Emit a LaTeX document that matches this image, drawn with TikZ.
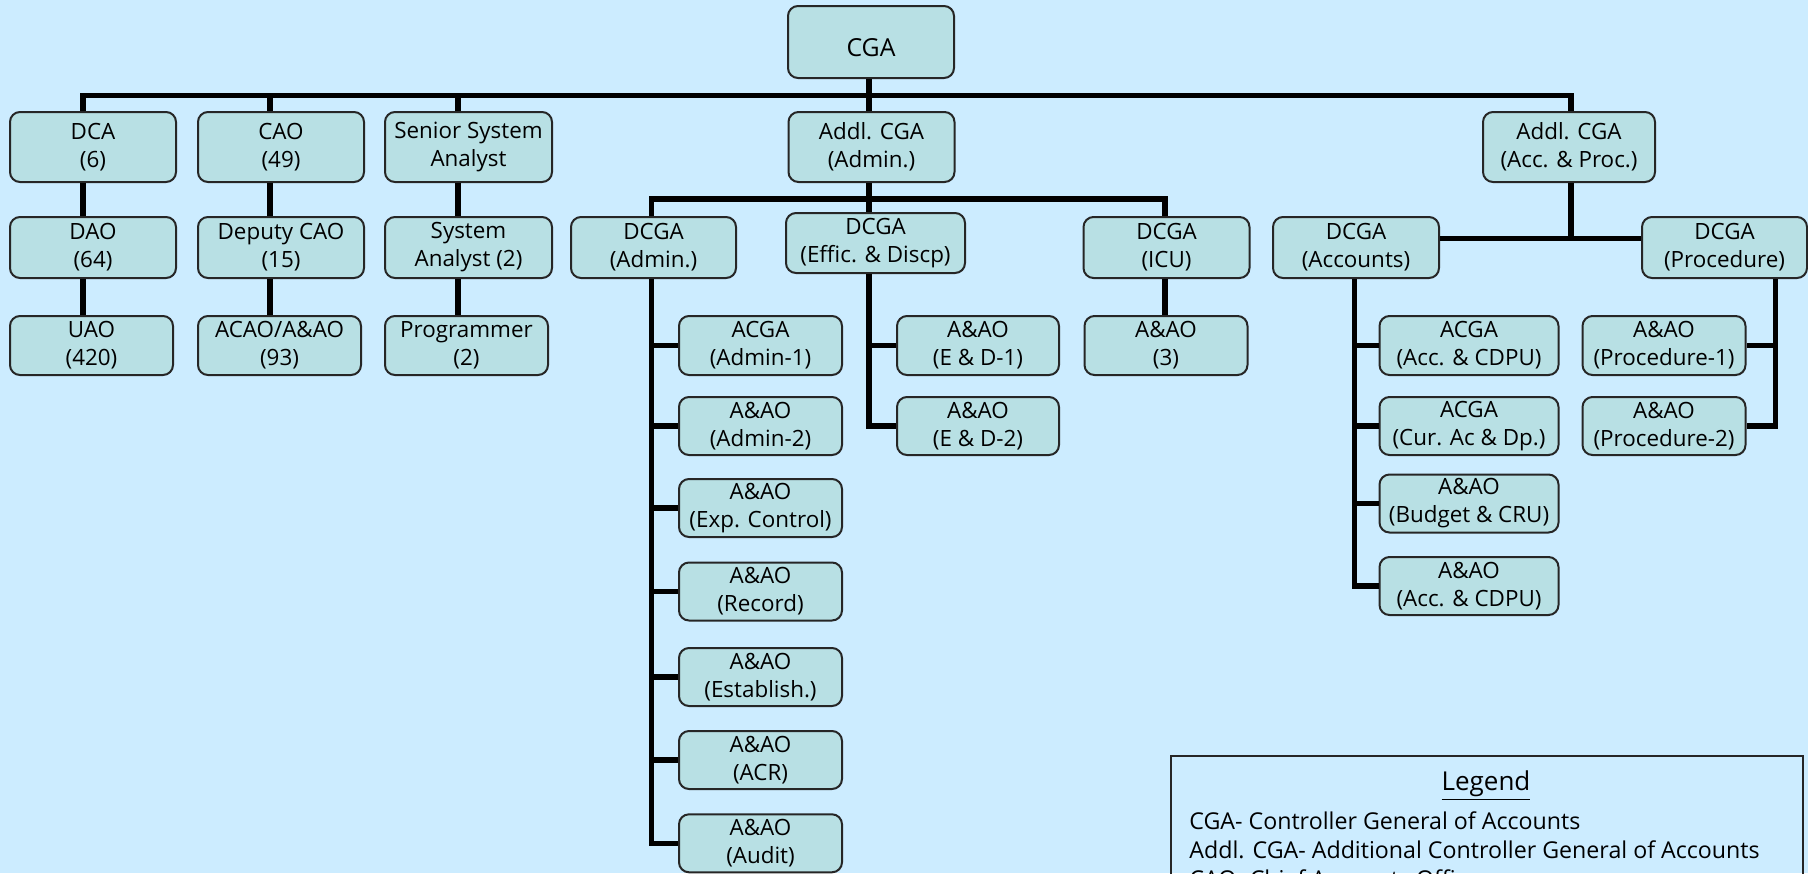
\documentclass[tikz,border=0pt]{standalone}
\usepackage{fontspec}
\setmainfont{Open Sans}
\usetikzlibrary{calc}
\definecolor{bgc}{RGB}{204,236,255}
\definecolor{boxc}{RGB}{184,224,228}
\begin{document}
\begin{tikzpicture}[x=0.5pt,y=-0.5pt,
  box/.style={draw=black!85, line width=1pt, fill=boxc, rounded corners=5pt, inner sep=0pt, align=center, font=\fontsize{11.2}{14}\selectfont},
  wh/.style 2 args={minimum width=#1*0.5pt, minimum height=#2*0.5pt},
  conn/.style={draw=black, line width=2.6pt},
  legtext/.style={font=\fontsize{11.6}{14}\selectfont, anchor=base west, inner sep=0pt}
]
\path[use as bounding box] (0,0) rectangle (1808,873);
\clip (0,0) rectangle (1808,873);
\fill[bgc] (0,0) rectangle (1808,873);

% top
\node[box, wh={166}{72}, font=\fontsize{12.4}{15}\selectfont, text height=14.7pt, text depth=0pt] (cga) at (871,42) {CGA};
% row 1
\node[box, wh={166}{70}] (dca) at (93,147) {DCA\\(6)};
\node[box, wh={166}{70}] (cao) at (281,147) {CAO\\(49)};
\node[box, wh={167}{70}] (ssa) at (468.5,147) {Senior System\\Analyst};
\node[box, wh={166}{70}] (addladmin) at (871.5,147) {Addl. CGA\\(Admin.)};
\node[box, wh={172}{70}] (addlacc) at (1569,147) {Addl. CGA\\(Acc. \& Proc.)};
% row 2
\node[box, wh={166}{61}] (dao) at (93,247.5) {DAO\\(64)};
\node[box, wh={166}{61}] (dcao) at (281,247.5) {Deputy CAO\\(15)};
\node[box, wh={167}{61}] (sa) at (468.5,247.5) {System\\Analyst (2)};
\node[box, wh={165}{61}] (dcgaadmin) at (653.5,247.5) {DCGA\\(Admin.)};
\node[box, wh={179}{60}] (dcgaeff) at (875.5,243) {DCGA\\(Effic. \& Discp)};
\node[box, wh={166}{61}] (dcgaicu) at (1166.5,247.5) {DCGA\\(ICU)};
\node[box, wh={166}{61}] (dcgaacc) at (1356,247.5) {DCGA\\(Accounts)};
\node[box, wh={165}{61}] (dcgaproc) at (1724.5,247.5) {DCGA\\(Procedure)};
% row 3
\node[box, wh={163}{59}] (uao) at (91.5,345.5) {UAO\\(420)};
\node[box, wh={163}{59}] (acao) at (279.5,345.5) {ACAO/A\&AO\\(93)};
\node[box, wh={163}{59}] (prog) at (466.5,345.5) {Programmer\\(2)};
\node[box, wh={163}{59}] (acga1) at (760.5,345.5) {ACGA\\(Admin-1)};
\node[box, wh={162}{59}] (ed1) at (978,345.5) {A\&AO\\(E \& D-1)};
\node[box, wh={163}{59}] (aao3) at (1166,345.5) {A\&AO\\(3)};
\node[box, wh={179}{59}] (acgaacc) at (1469,345.5) {ACGA\\(Acc. \& CDPU)};
\node[box, wh={163}{59}] (proc1) at (1664,345.5) {A\&AO\\(Procedure-1)};
% row 4
\node[box, wh={163}{58}] (admin2) at (760.5,426) {A\&AO\\(Admin-2)};
\node[box, wh={162}{58}] (ed2) at (978,426) {A\&AO\\(E \& D-2)};
\node[box, wh={179}{58}] (curac) at (1469,426) {ACGA\\(Cur. Ac \& Dp.)};
\node[box, wh={163}{58}] (proc2) at (1664,426) {A\&AO\\(Procedure-2)};
% admin column
\node[box, wh={163}{58}] (expc) at (760.5,508) {A\&AO\\(Exp. Control)};
\node[box, wh={163}{58}] (record) at (760.5,591.5) {A\&AO\\(Record)};
\node[box, wh={163}{58}] (estab) at (760.5,677) {A\&AO\\(Establish.)};
\node[box, wh={163}{58}] (acr) at (760.5,760) {A\&AO\\(ACR)};
\node[box, wh={163}{58}] (audit) at (760.5,843.3) {A\&AO\\(Audit)};
% accounts column
\node[box, wh={179}{58}] (budget) at (1469,503.5) {A\&AO\\(Budget \& CRU)};
\node[box, wh={179}{58}] (acccdpu2) at (1469,586) {A\&AO\\(Acc. \& CDPU)};

% connector columns and rows
\coordinate (c1) at (83,0);
\coordinate (c2) at (270,0);
\coordinate (c3) at (458,0);
\coordinate (c4) at (869,0);
\coordinate (c5) at (651.5,0);
\coordinate (c6) at (1165,0);
\coordinate (c7) at (1571,0);
\coordinate (c8) at (1354.5,0);
\coordinate (c9) at (1775.5,0);
\coordinate (bus) at (0,95.5);
\coordinate (sub) at (0,199);
\coordinate (accbar) at (0,238.5);

\draw[conn] (c1 |- dca.north) -- (c1 |- bus) -- (c7 |- bus) -- (c7 |- addlacc.north);
\draw[conn] (c2 |- bus) -- (c2 |- cao.north);
\draw[conn] (c3 |- bus) -- (c3 |- ssa.north);
\draw[conn] (c4 |- cga.south) -- (c4 |- addladmin.north);
\draw[conn] (c1 |- dca.south) -- (c1 |- dao.north);
\draw[conn] (c1 |- dao.south) -- (c1 |- uao.north);
\draw[conn] (c2 |- cao.south) -- (c2 |- dcao.north);
\draw[conn] (c2 |- dcao.south) -- (c2 |- acao.north);
\draw[conn] (c3 |- ssa.south) -- (c3 |- sa.north);
\draw[conn] (c3 |- sa.south) -- (c3 |- prog.north);

\draw[conn] (c5 |- dcgaadmin.north) -- (c5 |- sub) -- (c6 |- sub) -- (c6 |- dcgaicu.north);
\draw[conn] (c4 |- addladmin.south) -- (c4 |- dcgaeff.north);
\draw[conn] (c6 |- dcgaicu.south) -- (c6 |- aao3.north);
\draw[conn] (c5 |- dcgaadmin.south) |- (audit.west);
\foreach \n in {acga1,admin2,expc,record,estab,acr}
  \draw[conn] (c5 |- \n.west) -- (\n.west);
\draw[conn] (c4 |- dcgaeff.south) |- (ed2.west);
\draw[conn] (c4 |- ed1.west) -- (ed1.west);

\draw[conn, line width=3.4pt] (c7 |- addlacc.south) -- (c7 |- accbar);
\draw[conn] (dcgaacc.east |- accbar) -- (dcgaproc.west |- accbar);
\draw[conn] (c8 |- dcgaacc.south) |- (acccdpu2.west);
\foreach \n in {acgaacc,curac,budget}
  \draw[conn] (c8 |- \n.west) -- (\n.west);
\draw[conn] (c9 |- dcgaproc.south) |- (proc2.east);
\draw[conn] (c9 |- proc1.east) -- (proc1.east);

% legend
\node[draw=black!85, line width=1pt, minimum width=632*0.5pt, minimum height=200*0.5pt, anchor=north west, inner sep=0pt] (legendbox) at (1170,755) {};
\node[font=\fontsize{13}{16}\selectfont, anchor=base, inner sep=0pt] (legendtitle) at (1486,790) {\underline{Legend}};
\node[legtext] (leg1) at (1189,829) {CGA- Controller General of Accounts};
\node[legtext] (leg2) at (1189,858.3) {Addl. CGA- Additional Controller General of Accounts};
\node[legtext] (leg3) at (1189,887) {CAO- Chief Accounts Officer};
\end{tikzpicture}
\end{document}
